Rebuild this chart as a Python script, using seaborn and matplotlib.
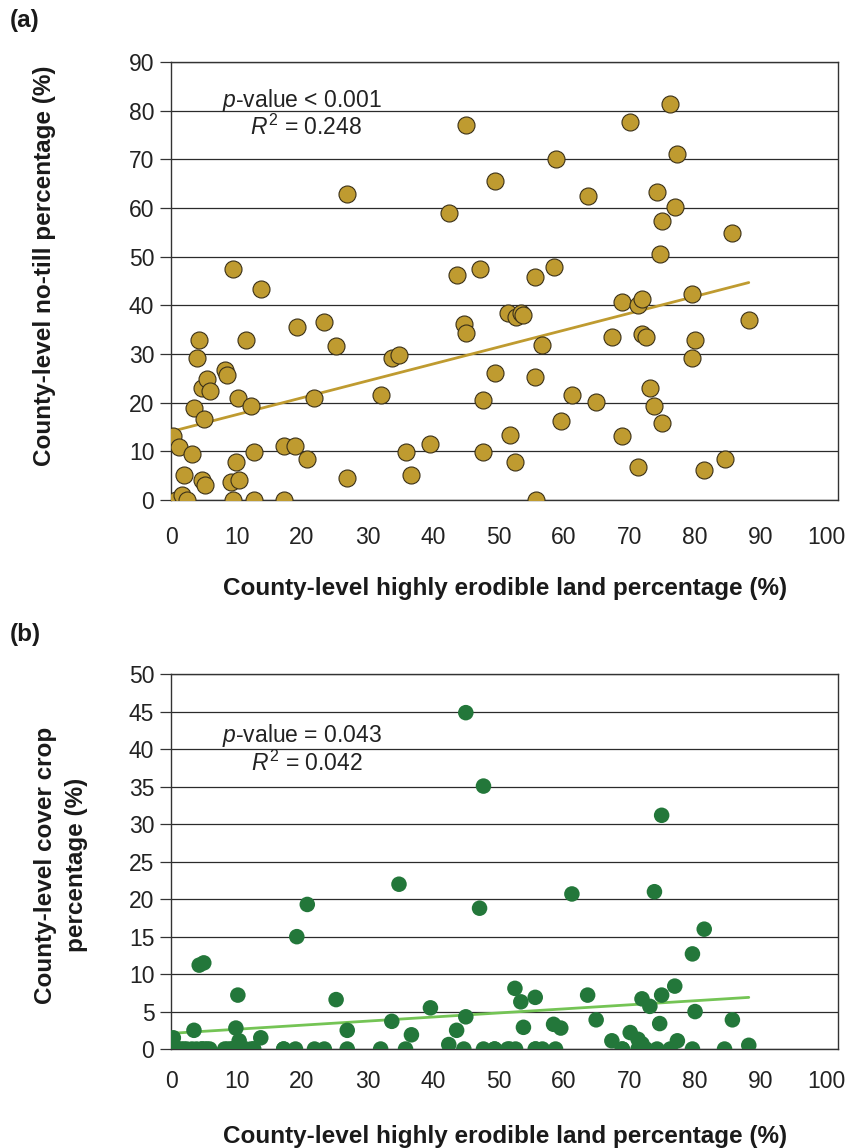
import numpy as np
import pandas as pd
import matplotlib
matplotlib.use("Agg")
import matplotlib.pyplot as plt
import seaborn as sns

# county-level data (same counties in both panels)
erodible_pct = [0.35, 0.7, 1.2, 1.6, 2.0, 2.4, 3.2, 3.5, 3.9, 4.3, 4.7, 4.7, 5.0, 5.2, 5.5, 5.9,
                8.2, 8.6, 9.1, 9.4, 9.4, 9.9, 10.2, 10.4, 11.4, 12.2, 12.6, 12.6, 13.7, 17.2,
                17.2, 19.0, 19.2, 20.8, 21.9, 23.4, 25.2, 26.9, 26.9, 32.0, 33.7, 34.8, 35.8,
                36.7, 39.6, 42.4, 43.6, 44.7, 45.0, 45.0, 47.1, 47.7, 47.7, 49.4, 49.4, 51.4,
                51.7, 52.5, 52.6, 53.4, 53.8, 55.6, 55.6, 55.7, 56.7, 58.4, 58.7, 59.5, 61.2,
                63.6, 64.9, 67.3, 68.9, 68.9, 70.1, 71.3, 71.3, 71.9, 71.9, 72.5, 73.1, 73.8,
                74.9, 74.2, 74.6, 74.9, 76.2, 76.9, 77.3, 79.6, 80.0, 79.6, 81.4, 84.5, 85.7, 88.2]
notill_pct = [13.1, 0, 10.8, 1.0, 5.1, 0, 9.4, 18.8, 29.1, 32.9, 23.1, 4.1, 16.6, 3.0, 24.8, 22.4,
              26.8, 25.7, 3.6, 47.4, 0, 7.7, 20.9, 4.1, 32.9, 19.4, 9.9, 0, 43.4, 0,
              11.0, 11.1, 35.5, 8.4, 20.9, 36.5, 31.7, 62.9, 4.6, 21.6, 29.1, 29.8, 9.9,
              5.1, 11.5, 58.9, 46.2, 36.1, 34.4, 77.1, 47.4, 20.6, 9.9, 65.6, 26.0, 38.5,
              13.4, 7.7, 37.6, 38.5, 38.0, 45.8, 25.3, 0, 31.9, 47.8, 70.0, 16.3, 21.6,
              62.4, 20.1, 33.4, 13.1, 40.6, 77.6, 6.7, 40.0, 41.2, 34.1, 33.4, 23.1, 19.4,
              15.8, 63.2, 50.6, 57.4, 81.4, 60.1, 71.1, 42.4, 32.9, 29.1, 6.2, 8.4, 54.9, 37.0]
covercrop_pct = [1.5, 0, 0, 0, 0, 0, 0, 2.5, 0, 11.2, 0, 0, 11.5, 0, 0, 0,
                 0, 0, 0, 0, 0, 2.8, 7.2, 1.1, 0, 0, 0, 0, 1.5, 0,
                 0, 0, 15.0, 19.3, 0, 0, 6.6, 0, 2.5, 0, 3.7, 22.0, 0,
                 1.9, 5.5, 0.6, 2.5, 0, 4.3, 44.9, 18.8, 35.1, 0, 0, 0, 0,
                 0, 8.1, 0, 6.3, 2.9, 0, 6.9, 0, 0, 3.3, 0, 2.8, 20.7,
                 7.2, 3.9, 1.1, 0, 0, 2.2, 0, 1.3, 6.7, 0.7, 0, 5.7, 21.0,
                 7.2, 0, 3.4, 31.2, 0, 8.4, 1.1, 0, 5.0, 12.7, 16.0, 0, 3.9, 0.5]

x_ticks = list(range(0, 101, 10))
notill_ticks = list(range(0, 91, 10))
cover_ticks = list(range(0, 51, 5))

data = pd.DataFrame({"erodible": erodible_pct, "notill": notill_pct, "cover": covercrop_pct})

sns.set_theme(style="white")
plt.rcParams["font.family"] = ["Liberation Sans", "DejaVu Sans"]
plt.rcParams["mathtext.fontset"] = "custom"
plt.rcParams["mathtext.rm"] = "Liberation Sans"
plt.rcParams["mathtext.it"] = "Liberation Sans:italic"

gold = "#BF9B30"
dark_green = "#23773A"
light_green = "#74C455"

fig = plt.figure(figsize=(8.66, 11.48), dpi=100)
ax1 = fig.add_axes([0.1975, 0.5645, 0.770, 0.3815])
ax2 = fig.add_axes([0.1975, 0.0862, 0.770, 0.3263])

# panel (a)
sns.scatterplot(data=data, x="erodible", y="notill", ax=ax1, color=gold, s=150,
                edgecolor="#3a3018", linewidth=0.8, zorder=3, legend=False)
sns.regplot(data=data, x="erodible", y="notill", ax=ax1, scatter=False, ci=None,
            line_kws={"color": gold, "lw": 2.0, "zorder": 2})
ax1.set_ylim(0, 90)
ax1.set_yticks(notill_ticks)

# panel (b)
sns.scatterplot(data=data, x="erodible", y="cover", ax=ax2, color=dark_green, s=125,
                edgecolor="none", linewidth=0, zorder=3, legend=False)
sns.regplot(data=data, x="erodible", y="cover", ax=ax2, scatter=False, ci=None,
            line_kws={"color": light_green, "lw": 2.0, "zorder": 2})
ax2.set_ylim(0, 50)
ax2.set_yticks(cover_ticks)

for ax in (ax1, ax2):
    ax.set_xlim(0, 101.8)
    ax.set_xticks(x_ticks)
    ax.set_xlabel("")
    ax.set_ylabel("")
    ax.yaxis.grid(True, color="#2b2b2b", lw=0.9)
    ax.xaxis.grid(False)
    ax.set_axisbelow(True)
    for sp in ax.spines.values():
        sp.set_color("#333333")
        sp.set_linewidth(1.0)
    ax.tick_params(axis="y", left=True, length=8, width=0.9, color="#333333",
                   labelsize=16.5, pad=4, labelcolor="#222222")
    ax.tick_params(axis="x", bottom=False, labelsize=16.5, pad=9, labelcolor="#222222")
    ax.patch.set_visible(False)

ax1.tick_params(axis="x", pad=13)

note_kw = dict(ha="center", va="center", fontsize=16.5, color="#222222")
ax1.text(0.196, 0.913, "$p$-value < 0.001", transform=ax1.transAxes, **note_kw)
ax1.text(0.203, 0.852, "$R^2$ = 0.248", transform=ax1.transAxes, **note_kw)
ax2.text(0.196, 0.836, "$p$-value = 0.043", transform=ax2.transAxes, **note_kw)
ax2.text(0.203, 0.764, "$R^2$ = 0.042", transform=ax2.transAxes, **note_kw)

label_kw = dict(fontsize=17.5, fontweight="bold", color="#1a1a1a")
fig.text(505 / 866, 1 - 588 / 1148, "County-level highly erodible land percentage (%)",
         ha="center", va="center", **label_kw)
fig.text(505 / 866, 1 - 1136 / 1148, "County-level highly erodible land percentage (%)",
         ha="center", va="center", **label_kw)
fig.text(45 / 866, 1 - 266 / 1148, "County-level no-till percentage (%)",
         ha="center", va="center", rotation=90, **label_kw)
fig.text(61 / 866, 1 - 865 / 1148, "County-level cover crop\npercentage (%)",
         ha="center", va="center", rotation=90, linespacing=1.4, **label_kw)
fig.text(10 / 866, 1 - 20 / 1148, "(a)", ha="left", va="center", **label_kw)
fig.text(10 / 866, 1 - 635 / 1148, "(b)", ha="left", va="center", **label_kw)

fig.savefig("out.png", dpi=100, facecolor="white")
